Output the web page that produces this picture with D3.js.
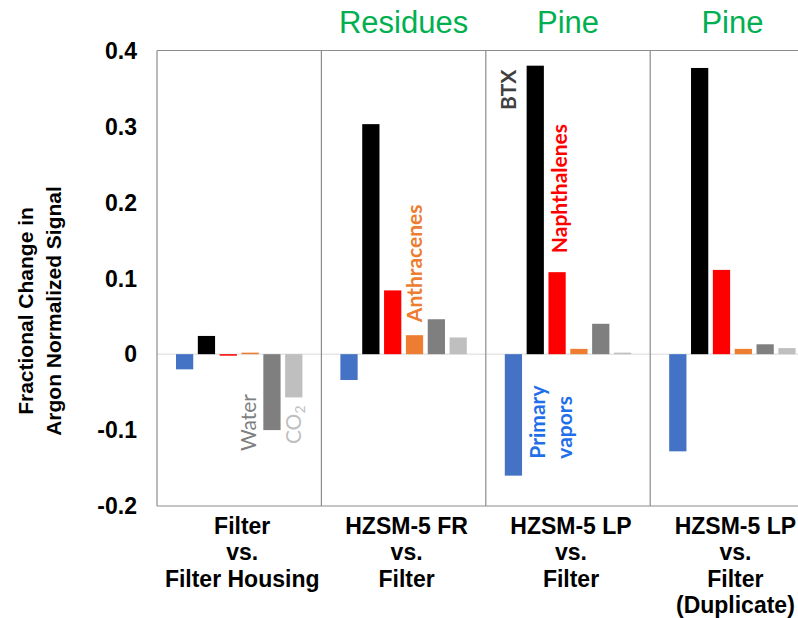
<!DOCTYPE html>
<html>
<head>
<meta charset="utf-8">
<script src="https://cdn.jsdelivr.net/npm/d3@7"></script>
<style>
  html, body { margin: 0; padding: 0; background: #ffffff; }
  svg { display: block; }
</style>
</head>
<body>
<div id="chart"></div>
<script>
// Comparison groups along the x axis (one label line per array entry)
const categoryLines = [
  ["Filter", "vs.", "Filter Housing"],
  ["HZSM-5 FR", "vs.", "Filter"],
  ["HZSM-5 LP", "vs.", "Filter"],
  ["HZSM-5 LP", "vs.", "Filter", "(Duplicate)"]
];
const panelTitles = ["", "Residues", "Pine", "Pine"];

// Product classes, in bar order within each group
const seriesNames = ["Primary vapors", "BTX", "Naphthalenes", "Anthracenes", "Water", "CO2"];

// Fractional change in argon-normalized signal, one value per group
const primaryVapors = [-0.020, -0.034, -0.160, -0.128];
const btx           = [ 0.024,  0.303,  0.380,  0.377];
const naphthalenes  = [-0.002,  0.084,  0.108,  0.111];
const anthracenes   = [ 0.002,  0.025,  0.007,  0.007];
const water         = [-0.100,  0.046,  0.040,  0.013];
const co2           = [-0.057,  0.022,  0.002,  0.008];

const yTicks = [-0.2, -0.1, 0, 0.1, 0.2, 0.3, 0.4];

const seriesValues = [primaryVapors, btx, naphthalenes, anthracenes, water, co2];
const seriesColors = ["#4472c4", "#000000", "#ff0000", "#ed7d31", "#7f7f7f", "#bfbfbf"];

const W = 798, H = 618;
const svg = d3.select("#chart").append("svg")
  .attr("width", W).attr("height", H)
  .attr("viewBox", `0 0 ${W} ${H}`);
svg.append("rect").attr("width", W).attr("height", H).attr("fill", "#fff");

const plotLeft = 157, plotTop = 50.5, plotBottom = 506;
const panelWidth = 164.4;

const y = d3.scaleLinear().domain([-0.2, 0.4]).range([plotBottom, plotTop]);
const x0 = d3.scaleBand()
  .domain(d3.range(categoryLines.length))
  .range([plotLeft, plotLeft + panelWidth * categoryLines.length])
  .padding(0);
const x1 = d3.scaleBand()
  .domain(seriesNames)
  .range([0, x0.bandwidth()])
  .paddingInner(0.21)
  .paddingOuter(0.87);

const rightEdge = x0.range()[1];
const frameColor = "#8c8c8c";

// zero line
svg.append("line")
  .attr("x1", plotLeft).attr("x2", rightEdge)
  .attr("y1", y(0)).attr("y2", y(0))
  .attr("stroke", "#d9d9d9").attr("stroke-width", 1);

// bars
const groups = svg.append("g").selectAll("g")
  .data(categoryLines.map((_, i) => i))
  .join("g")
  .attr("transform", i => `translate(${x0(i)},0)`);

groups.selectAll("rect")
  .data(i => seriesNames.map((s, k) => ({ s, k, v: seriesValues[k][i] })))
  .join("rect")
  .attr("x", d => x1(d.s))
  .attr("width", x1.bandwidth())
  .attr("y", d => y(Math.max(0, d.v)))
  .attr("height", d => Math.max(1, Math.abs(y(d.v) - y(0))))
  .attr("fill", d => seriesColors[d.k]);

// frame: top and bottom borders, left axis and group dividers
const frame = svg.append("g").attr("stroke", frameColor).attr("stroke-width", 1.2);
frame.append("line").attr("x1", plotLeft).attr("x2", rightEdge)
  .attr("y1", y(0.4)).attr("y2", y(0.4));
frame.append("line").attr("x1", plotLeft).attr("x2", rightEdge)
  .attr("y1", y(-0.2)).attr("y2", y(-0.2));
frame.selectAll("line.div")
  .data(d3.range(categoryLines.length + 1))
  .join("line")
  .attr("class", "div")
  .attr("x1", i => plotLeft + i * x0.step())
  .attr("x2", i => plotLeft + i * x0.step())
  .attr("y1", y(0.4)).attr("y2", y(-0.2));

// y axis tick labels
const axisFont = "'Liberation Sans', Arial, sans-serif";
svg.append("g").selectAll("text")
  .data(yTicks)
  .join("text")
  .attr("x", 137)
  .attr("y", d => y(d))
  .attr("dy", "0.36em")
  .attr("text-anchor", "end")
  .attr("font-family", axisFont)
  .attr("font-weight", "bold")
  .attr("font-size", 23)
  .attr("fill", "#000")
  .text(d => d === 0 ? "0" : d.toFixed(1));

// y axis title
const yTitle = ["Fractional Change in", "Argon Normalized Signal"];
svg.append("g").selectAll("text")
  .data(yTitle)
  .join("text")
  .attr("transform", (d, i) => `translate(${25 + i * 28},311) rotate(-90)`)
  .attr("dy", "0.36em")
  .attr("text-anchor", "middle")
  .attr("font-family", axisFont)
  .attr("font-weight", "bold")
  .attr("font-size", 21)
  .attr("fill", "#000")
  .text(d => d);

// category labels
const catText = svg.append("g").selectAll("text")
  .data(categoryLines.map((lines, i) => ({ lines, i })))
  .join("text")
  .attr("text-anchor", "middle")
  .attr("font-family", axisFont)
  .attr("font-weight", "bold")
  .attr("font-size", 23)
  .attr("fill", "#000");
catText.selectAll("tspan")
  .data(d => d.lines.map(t => ({ t, i: d.i })))
  .join("tspan")
  .attr("x", d => x0(d.i) + x0.bandwidth() / 2 + 3)
  .attr("y", (d, j) => 533.5 + j * 26.5)
  .text(d => d.t);

// panel titles
svg.append("g").selectAll("text")
  .data(panelTitles.map((t, i) => ({ t, i })).filter(d => d.t))
  .join("text")
  .attr("x", d => x0(d.i) + x0.bandwidth() / 2)
  .attr("y", 33)
  .attr("text-anchor", "middle")
  .attr("font-family", axisFont)
  .attr("font-size", 31)
  .attr("fill", "#00b050")
  .text(d => d.t);

// in-plot series annotations (rotated), placed beside their bars
const noteFont = "Lato, 'Open Sans', sans-serif";
const barCenter = (i, s) => x0(i) + x1(s) + x1.bandwidth() / 2;
const notes = [
  { text: "Water", cx: barCenter(0, "Anthracenes") - 2, yPos: y(water[0]) + 21, anchor: "start", color: "#7f7f7f", weight: "normal" },
  { text: "CO", sub: "2", cx: barCenter(0, "CO2"), yPos: y(co2[0]) + 8, anchor: "end", color: "#bfbfbf", weight: "normal" },
  { text: "Anthracenes", cx: barCenter(1, "Anthracenes"), yPos: y(anthracenes[1]) - 13, anchor: "start", color: "#ed7d31", weight: "bold" },
  { text: "BTX", cx: barCenter(2, "Primary vapors") - 5, yPos: y(btx[2]) + 4, anchor: "end", color: "#404040", weight: "bold" },
  { text: "Naphthalenes", cx: barCenter(2, "Naphthalenes") + 2, yPos: y(naphthalenes[2]) - 19, anchor: "start", color: "#ff0000", weight: "bold" },
  { text: "Primary", cx: barCenter(2, "BTX") + 2, yPos: y(primaryVapors[2]) - 17, anchor: "start", color: "#1f6fea", weight: "bold" },
  { text: "vapors", cx: barCenter(2, "Naphthalenes") + 7, yPos: y(primaryVapors[2]) - 17, anchor: "start", color: "#1f6fea", weight: "bold" }
];
const noteText = svg.append("g").selectAll("text")
  .data(notes)
  .join("text")
  .attr("transform", d => `translate(${d.cx},${d.yPos}) rotate(-90)`)
  .attr("dy", "0.36em")
  .attr("text-anchor", d => d.anchor)
  .attr("font-family", noteFont)
  .attr("font-size", 21)
  .attr("font-weight", d => d.weight)
  .attr("fill", d => d.color);
noteText.append("tspan").text(d => d.text);
noteText.filter(d => d.sub).append("tspan")
  .attr("font-size", 14)
  .attr("dy", "0.25em")
  .text(d => d.sub);
</script>
</body>
</html>
